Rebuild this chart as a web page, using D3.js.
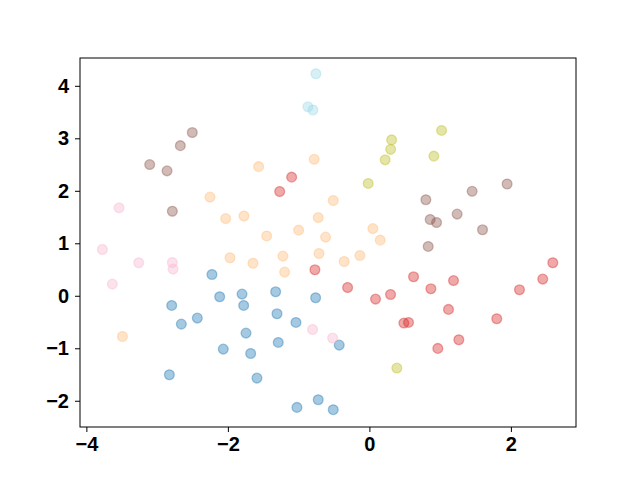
<!DOCTYPE html>
<html>
<head>
<meta charset="utf-8">
<script src="https://cdn.jsdelivr.net/npm/d3@7"></script>
<style>
  body { margin: 0; background: #fff; }
</style>
</head>
<body>
<div class="chart"></div>
<script>
// groups of points
const blueX = [-2.225, -2.116, -1.80, -1.777, -1.325, -0.76, -2.794, -2.658, -2.432, -1.306, -1.038,
  -1.744, -1.288, -2.065, -1.678, -0.426, -2.827, -1.589, -1.024, -0.723, -0.511];
const blueY = [0.406, -0.019, 0.032, -0.184, 0.076, -0.038, -0.184, -0.54, -0.425, -0.343, -0.508,
  -0.711, -0.889, -1.016, -1.099, -0.94, -1.505, -1.568, -2.127, -1.98, -2.17];

const orangeX = [-0.78, -1.565, -2.253, -2.031, -1.773, -1.452, -1.0, -0.723, -0.511, -0.619,
  0.049, 0.153, -1.97, -1.645, -1.222, -0.713, -1.198, -3.49, -0.356, -0.134];
const orangeY = [2.60, 2.46, 1.88, 1.47, 1.52, 1.14, 1.25, 1.49, 1.815, 1.118,
  1.28, 1.06, 0.724, 0.62, 0.756, 0.806, 0.451, -0.775, 0.653, 0.768];

const redX = [-1.099, -1.268, -0.77, 2.592, 2.45, 2.121, -0.308, 0.087, 0.299, 0.624, 0.869,
  1.189, 1.118, 0.487, 0.553, 1.80, 1.264, 0.967];
const redY = [2.26, 1.987, 0.495, 0.629, 0.318, 0.114, 0.158, -0.063, 0.025, 0.362, 0.133,
  0.29, -0.26, -0.52, -0.508, -0.438, -0.838, -1.003];

const brownX = [-2.503, -2.672, -3.105, -2.86, -2.785, 1.946, 1.452, 0.798, 1.24, 0.859, 0.949, 1.599, 0.831];
const brownY = [3.11, 2.86, 2.50, 2.38, 1.61, 2.13, 1.99, 1.83, 1.556, 1.453, 1.396, 1.257, 0.94];

const pinkX = [-3.538, -3.774, -3.633, -3.26, -2.785, -2.775, -0.803, -0.52];
const pinkY = [1.676, 0.882, 0.222, 0.629, 0.634, 0.508, -0.642, -0.806];

const oliveX = [1.02, 0.314, 0.30, 0.223, 0.911, -0.017, 0.388];
const oliveY = [3.15, 2.97, 2.79, 2.59, 2.66, 2.14, -1.377];

const cyanX = [-0.756, -0.869, -0.798];
const cyanY = [4.23, 3.60, 3.54];

const groups = [
  { xs: blueX, ys: blueY, color: '#1f77b4' },
  { xs: orangeX, ys: orangeY, color: '#ffbb78' },
  { xs: redX, ys: redY, color: '#d62728' },
  { xs: brownX, ys: brownY, color: '#8c564b' },
  { xs: pinkX, ys: pinkY, color: '#f7b6d2' },
  { xs: oliveX, ys: oliveY, color: '#bcbd22' },
  { xs: cyanX, ys: cyanY, color: '#9edae5' },
];

const xTicks = [-4, -2, 0, 2];
const yTicks = [-2, -1, 0, 1, 2, 3, 4];

const margin = { top: 58, right: 64, bottom: 53, left: 80 };
const width = 640 - margin.left - margin.right;
const height = 480 - margin.top - margin.bottom;

const x = d3.scaleLinear().domain([-4.09, 2.92]).range([0, width]);
const y = d3.scaleLinear().domain([-2.50, 4.53]).range([height, 0]);

const svg = d3.select('.chart').append('svg')
    .attr('width', 640)
    .attr('height', 480)
  .append('g')
    .attr('transform', `translate(${margin.left}, ${margin.top})`);

const fmt = d => (d < 0 ? '\u2212' + Math.abs(d) : String(d));

groups.forEach((g) => {
  svg.selectAll(null)
      .data(g.xs.map((v, i) => [v, g.ys[i]]))
    .enter().append('circle')
      .attr('cx', d => x(d[0]))
      .attr('cy', d => y(d[1]))
      .attr('r', 4.9)
      .attr('fill', g.color)
      .attr('fill-opacity', 0.4)
      .attr('stroke', g.color)
      .attr('stroke-opacity', 0.4)
      .attr('stroke-width', 1.3);
});

const xAxis = svg.append('g')
    .attr('transform', `translate(0, ${height})`)
    .call(d3.axisBottom(x).tickValues(xTicks).tickFormat(fmt).tickSize(5).tickPadding(5));

const yAxis = svg.append('g')
    .call(d3.axisLeft(y).tickValues(yTicks).tickFormat(fmt).tickSize(5).tickPadding(6));

[xAxis, yAxis].forEach((a) => {
  a.attr('font-family', '"Liberation Sans", Arial, sans-serif')
    .attr('font-size', 20)
    .attr('font-weight', 'bold');
  a.select('.domain').remove();
  a.selectAll('.tick line').attr('stroke', '#000').attr('stroke-width', 1);
  a.selectAll('.tick text').attr('fill', '#000');
});

// frame
svg.append('rect')
    .attr('width', width)
    .attr('height', height)
    .attr('fill', 'none')
    .attr('stroke', '#000')
    .attr('stroke-width', 1);
</script>
</body>
</html>
